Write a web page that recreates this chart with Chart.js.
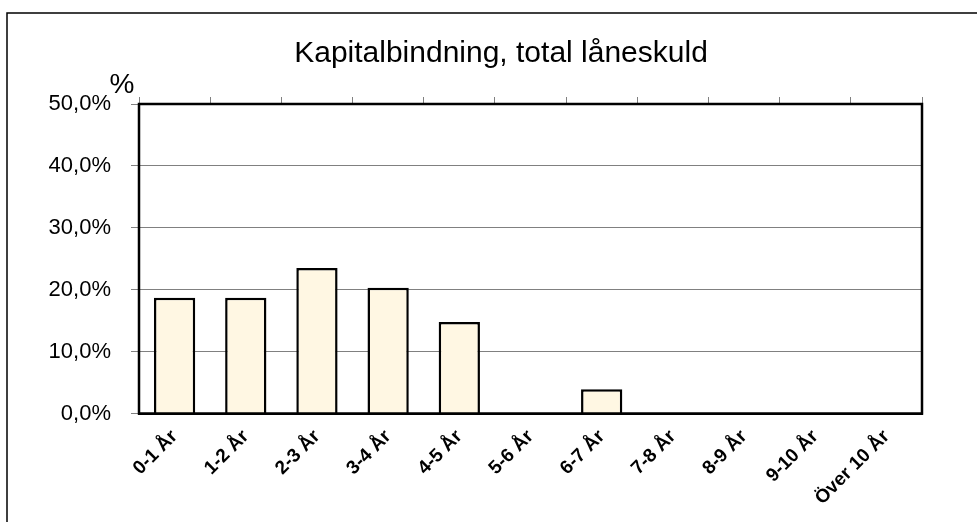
<!DOCTYPE html>
<html>
<head>
<meta charset="utf-8">
<script src="https://cdn.jsdelivr.net/npm/chart.js@4/dist/chart.umd.min.js"></script>
<style>
  html, body { margin: 0; padding: 0; background: #fff; }
  canvas { display: block; }
</style>
</head>
<body>
<canvas id="c" width="977" height="522"></canvas>
<script>
const categories = ['0-1 År', '1-2 År', '2-3 År', '3-4 År', '4-5 År', '5-6 År', '6-7 År', '7-8 År', '8-9 År', '9-10 År', 'Över 10 År'];
const shareValues = [18.7, 18.7, 23.5, 20.3, 14.8, 0, 3.9, 0, 0, 0, 0];
const yTicks = [0, 10, 20, 30, 40, 50];
const chartTitle = 'Kapitalbindning, total låneskuld';
const yUnit = '%';

const FONT = '"Liberation Sans", Arial, sans-serif';

const decorPlugin = {
  id: 'decor',
  beforeDraw(chart) {
    const ctx = chart.ctx;
    ctx.save();
    ctx.fillStyle = '#fff';
    ctx.fillRect(0, 0, chart.width, chart.height);
    ctx.strokeStyle = '#000';
    ctx.lineWidth = 1.5;
    ctx.strokeRect(7, 13, chart.width + 20, chart.height + 20);
    ctx.restore();
  },
  afterDraw(chart) {
    const ctx = chart.ctx;
    const a = chart.chartArea;
    ctx.save();
    ctx.strokeStyle = '#000';
    ctx.lineWidth = 2.5;
    ctx.strokeRect(a.left, a.top, a.right - a.left, a.bottom - a.top);
    ctx.fillStyle = '#000';
    ctx.textAlign = 'center';
    ctx.textBaseline = 'alphabetic';
    ctx.font = '30px ' + FONT;
    ctx.fillText(chartTitle, 501, 62);
    ctx.font = '28px ' + FONT;
    ctx.fillText(yUnit, 122, 93);
    ctx.restore();
  }
};

new Chart(document.getElementById('c'), {
  type: 'bar',
  data: {
    labels: categories,
    datasets: [{
      data: shareValues,
      backgroundColor: '#FFF7E3',
      borderColor: '#000',
      borderWidth: 2.5,
      borderSkipped: 'bottom',
      barPercentage: 0.58,
      categoryPercentage: 1.0
    }]
  },
  options: {
    responsive: false,
    animation: false,
    devicePixelRatio: 1,
    layout: { padding: { left: 0, right: 55, top: 97, bottom: 0 } },
    plugins: {
      legend: { display: false },
      title: { display: false },
      tooltip: { enabled: false }
    },
    scales: {
      x: {
        type: 'category',
        position: 'bottom',
        offset: true,
        grid: { display: false, drawTicks: false },
        border: { display: true, color: '#000', width: 2 },
        ticks: {
          minRotation: 45,
          maxRotation: 45,
          padding: 12,
          autoSkip: false,
          color: '#000',
          font: { family: FONT, size: 19, weight: 'bold' }
        },
        afterFit(s) { s.height = 108.5; }
      },
      x2: {
        type: 'category',
        position: 'top',
        labels: categories,
        offset: true,
        grid: { display: true, offset: true, drawOnChartArea: false, drawTicks: true, tickLength: 7, color: '#808080', lineWidth: 1 },
        border: { display: false },
        ticks: { display: false },
        afterFit(s) { s.height = 7; }
      },
      y: {
        min: 0,
        max: 50,
        position: 'left',
        afterBuildTicks(s) { s.ticks = yTicks.map(v => ({ value: v })); },
        grid: { color: '#808080', lineWidth: 1, tickLength: 8, drawTicks: true },
        border: { display: true, color: '#000', width: 2 },
        ticks: {
          padding: 20,
          color: '#000',
          font: { family: FONT, size: 22 },
          callback: v => v.toFixed(1).replace('.', ',') + '%'
        },
        afterFit(s) { s.width = 139; }
      }
    }
  },
  plugins: [decorPlugin]
});
</script>
</body>
</html>
